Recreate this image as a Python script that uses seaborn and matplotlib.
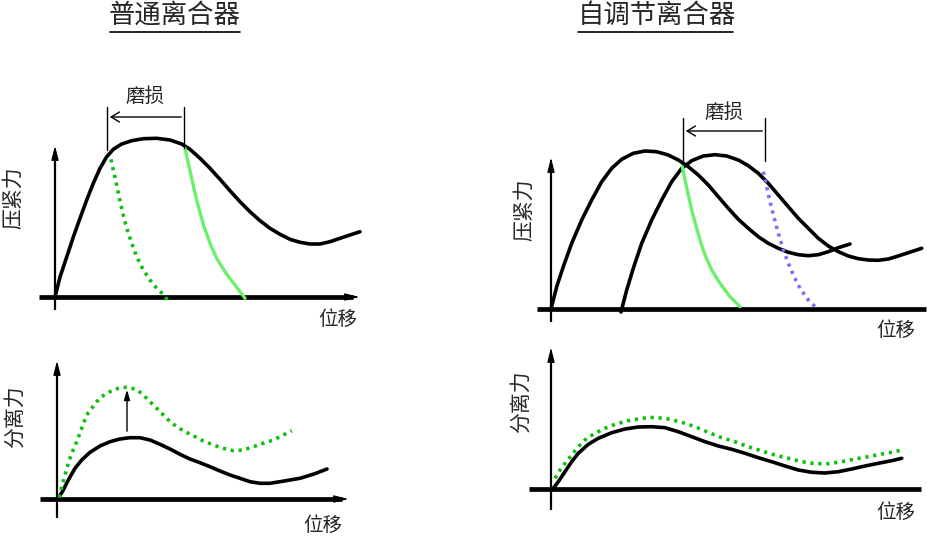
import numpy as np
import pandas as pd
import matplotlib
matplotlib.use('Agg')
import matplotlib.pyplot as plt
import seaborn as sns

# ---- data: (displacement, force), per panel ----
# top left: normal clutch, clamping force
normal_x = [0, 5, 11.7, 18.3, 25, 31.7, 38.3, 45, 51.7, 58.3, 66.7, 76.7, 88.3, 101.7, 115,
            126.7, 135, 145, 155, 165, 175, 185, 195, 205, 215, 225, 235, 245, 255, 265,
            275, 285, 295, 305]
normal_y = [0, 20, 40, 60, 78.7, 97, 113.7, 128.7, 140.3, 147.7, 153, 156.3, 158.3, 158.7, 157,
            153, 147.7, 138.7, 128.7, 117.7, 106.3, 95.3, 85.3, 76.3, 68.7, 62.7, 57.7, 54.7,
            53, 53, 55.3, 58.7, 62, 65.3]
worn_release_x = [56, 58.3, 61, 63.3, 65.7, 69, 72.3, 76.7, 81.7, 88.3, 95, 101.7, 108.3, 112.3]
worn_release_y = [137.7, 127, 115.3, 103.7, 93, 78.7, 67, 53.7, 40.3, 27, 17, 8.7, 2.7, -3]
new_release_x = [130, 133.3, 136.7, 140, 144.3, 149, 155, 161.7, 170, 180, 190]
new_release_y = [148.7, 133.7, 118.7, 103.7, 87, 70.3, 53.7, 38.7, 25.3, 12, -1.3]

# top right: self-adjusting clutch, clamping force
adj_a_x = [0, 5.7, 12.3, 20.7, 30.7, 40.7, 50.7, 60.7, 70.7, 82.3, 94, 105.7, 117.3, 127.3,
           137.3, 147.3, 157.3, 167.3, 177.3, 187.3, 197.3, 207.3, 217.3, 227.3, 237.3,
           247.3, 257.3, 267.3, 277.3, 287.3, 299]
adj_a_y = [0, 22.3, 42.3, 65.7, 89, 109, 127.3, 140.7, 149.7, 155.7, 158, 157.3, 154, 149,
           142.3, 134, 124, 112.3, 100.7, 89.7, 80.7, 72.3, 65.7, 60.7, 56.7, 54.3, 53.3,
           54.3, 57.3, 61.3, 65]
adj_b_x = [70, 75.7, 82.3, 90.7, 100.7, 110.7, 120.7, 130.7, 140.7, 152.3, 164, 175.7, 187.3,
           197.3, 207.3, 217.3, 227.3, 237.3, 247.3, 257.3, 267.3, 277.3, 287.3, 297.3,
           307.3, 317.3, 327.3, 337.3, 347.3, 357.3, 370.7]
adj_b_y = [-3, 19, 40.7, 65.7, 89, 109, 127.3, 140.7, 148.3, 153, 154.3, 153, 149, 143.3,
           135.7, 125.7, 114, 102.3, 90.7, 80.7, 70.7, 63, 57.3, 53, 50.3, 49, 48.7, 50, 53,
           56.3, 60.7]
adj_green_x = [131.3, 134, 137.3, 140.7, 144.7, 149, 154, 160.7, 169, 179, 189]
adj_green_y = [142.3, 129, 114, 99, 84, 69, 54, 39, 25.7, 12.3, 2.3]
adj_blue_x = [212.3, 215.7, 219, 223.3, 227.3, 232.3, 237.3, 242.3, 249, 257.3, 265.7]
adj_blue_y = [137.3, 122.3, 107.3, 90.7, 75.7, 59, 45.7, 34, 20.7, 9, 0.7]

# bottom left: normal clutch, release force
sep_new_x = [1.3, 6.3, 11.3, 18, 24.7, 33, 43, 53, 63, 73, 83, 93, 103, 113, 123, 133, 143,
             153, 163, 173, 183, 193, 203, 213, 223, 233, 243, 257, 270]
sep_new_y = [0.7, 9, 19, 30.7, 39, 46.7, 53, 57.3, 60, 61.3, 61.3, 59, 54.7, 50, 44.7, 40,
             36.3, 32.3, 28, 24, 20.7, 17.3, 15.7, 15.7, 17.3, 19, 20.7, 25, 30]
sep_worn_x = [2.3, 4.7, 8, 11.3, 14.7, 19.7, 24.7, 29.7, 34.7, 39.7, 44.7, 49.7, 56.3, 63,
              69.7, 78, 84.7, 91.3, 98, 104.7, 111.3, 119.7, 128, 136.3, 146.3, 156.3, 166.3,
              176.3, 186.3, 196.3, 206.3, 216.3, 226.3, 234.7]
sep_worn_y = [1.3, 12.3, 24, 35.7, 45.7, 57.3, 70.7, 84, 90.7, 97.3, 102.3, 105.7, 109,
              111.3, 111.7, 110, 105.7, 99, 92.3, 85.7, 79, 72.3, 67.3, 63.3, 58, 54, 50.7,
              48.3, 49, 52.3, 55.7, 59, 64, 68.3]

# bottom right: self-adjusting clutch, release force
asep_new_x = [2.3, 7.3, 14, 20.7, 27.3, 37.3, 47.3, 60.7, 74, 87.3, 100.7, 114, 127.3, 140.7,
              154, 167.3, 180.7, 194, 207.3, 220.7, 234, 247.3, 260.7, 274, 287.3, 300.7,
              314, 327.3, 340.7, 350.7]
asep_new_y = [0.7, 7.3, 17.3, 27.3, 35.7, 44.7, 50.7, 56.3, 60, 62, 62.3, 61.3, 57.3, 52.3,
              47.3, 43, 39.7, 35.7, 31.3, 27.3, 23, 19, 16.7, 16, 17.3, 20, 23, 25.7, 28.3,
              30.7]
asep_worn_x = [4, 9, 14, 20.7, 27.3, 35.7, 44, 54, 64, 77.3, 90.7, 104, 117.3, 130.7, 144,
               157.3, 170.7, 184, 197.3, 210.7, 224, 237.3, 250.7, 264, 277.3, 290.7, 304,
               317.3, 330.7, 344, 350.7]
asep_worn_y = [10.7, 19, 25.7, 34, 42.3, 50.7, 55.7, 60.7, 64.7, 68.3, 70.7, 71.7, 70, 66.7,
               62.3, 56.7, 51.3, 47.3, 42.3, 38, 34, 30.7, 27.3, 25.3, 25.3, 27.3, 30, 32.3,
               35, 37.3, 39]

titles = ['普通离合器', '自调节离合器']
ylabels = ['压紧力', '压紧力', '分离力', '分离力']
xlabel = '位移'
wear_label = '磨损'

BLACK = '#000000'
GREEN_DOT = '#10c010'
GREEN = '#6af06a'
BLUE_DOT = '#7474f0'

sns.set_theme(style='white')
plt.rcParams['font.family'] = ['Noto Sans CJK SC', 'DejaVu Sans']

W, H = 928, 538
fig = plt.figure(figsize=(W / 100, H / 100), dpi=100)
fig.patch.set_facecolor('white')


def make_ax(box, origin):
    # box in pixels (x0, y0, x1, y1), origin in pixels; 1 data unit = 1 pixel
    x0, y0, x1, y1 = box
    ax = fig.add_axes([x0 / W, 1 - y1 / H, (x1 - x0) / W, (y1 - y0) / H])
    ax.set_xlim(x0 - origin[0], x1 - origin[0])
    ax.set_ylim(origin[1] - y1, origin[1] - y0)
    ax.axis('off')
    return ax


def draw_axes(ax, xr, yr):
    ax.plot(xr, [0, 0], color=BLACK, lw=3.4, solid_capstyle='butt')
    ax.annotate('', xy=(xr[1] + 9, 0), xytext=(xr[1] - 1, 0),
                arrowprops=dict(arrowstyle='-|>,head_length=0.7,head_width=0.18',
                                color=BLACK, lw=1))
    ax.plot([0, 0], [yr[0], yr[1] - 8], color=BLACK, lw=1.6, solid_capstyle='butt')
    ax.annotate('', xy=(0, yr[1]), xytext=(0, yr[1] - 10),
                arrowprops=dict(arrowstyle='-|>,head_length=0.7,head_width=0.18',
                                color=BLACK, lw=1))


def curve(ax, x, y, color, lw=2.4, dotted=False):
    kw = dict(linestyle=(0, (0.9, 1.3)), dash_capstyle='butt') if dotted else {}
    sns.lineplot(x=x, y=y, sort=False, ax=ax, color=color, lw=lw,
                 solid_joinstyle='round', **kw)


def wear(ax, xl, xr, ybot, ytop, yarrow, ytext):
    ax.plot([xl, xl], [ybot, ytop], color=BLACK, lw=1)
    ax.plot([xr, xr], [ybot + 2, ytop], color=BLACK, lw=1)
    ax.annotate('', xy=(xl, yarrow), xytext=(xr, yarrow),
                arrowprops=dict(arrowstyle='->,head_length=0.5,head_width=0.3',
                                color=BLACK, lw=1))
    ax.text((xl + xr) / 2, ytext, wear_label, ha='center', va='center', fontsize=14)


def title(ax, txt, x, y, ul):
    ax.text(x, y, txt, ha='center', va='center', fontsize=19)
    ax.plot(ul, [y - 17, y - 17], color=BLACK, lw=1.2)


# ---- top left ----
ax1 = make_ax((0, 0, 464, 335), (55, 297))
draw_axes(ax1, (-16, 298), (-13, 154))
curve(ax1, normal_x, normal_y, BLACK, lw=2.6)
curve(ax1, worn_release_x, worn_release_y, GREEN_DOT, lw=2.6, dotted=True)
curve(ax1, new_release_x, new_release_y, GREEN, lw=2.4)
wear(ax1, 52, 129, 147, 190, 180, 201)
title(ax1, titles[0], 120, 282, [55, 185])
ax1.text(-42, 99, ylabels[0], rotation=90, ha='center', va='center', fontsize=15)
ax1.text(283, -22, xlabel, ha='center', va='center', fontsize=14)

# ---- top right ----
ax2 = make_ax((464, 0, 928, 335), (551, 309))
draw_axes(ax2, (-14, 375), (-13, 154))
curve(ax2, adj_a_x, adj_a_y, BLACK, lw=2.6)
curve(ax2, adj_b_x, adj_b_y, BLACK, lw=2.6)
curve(ax2, adj_green_x, adj_green_y, GREEN, lw=2.4)
curve(ax2, adj_blue_x, adj_blue_y, BLUE_DOT, lw=2.6, dotted=True)
wear(ax2, 132, 214, 146, 191, 178, 197)
title(ax2, titles[1], 106, 294, [27, 182])
ax2.text(-27, 99, ylabels[1], rotation=90, ha='center', va='center', fontsize=15)
ax2.text(345, -21, xlabel, ha='center', va='center', fontsize=14)

# ---- bottom left ----
ax3 = make_ax((0, 335, 464, 538), (57, 499))
draw_axes(ax3, (-17, 285), (-19, 141))
curve(ax3, sep_new_x, sep_new_y, BLACK, lw=2.6)
curve(ax3, sep_worn_x, sep_worn_y, GREEN_DOT, lw=2.6, dotted=True)
ax3.annotate('', xy=(70, 112), xytext=(70, 65),
             arrowprops=dict(arrowstyle='-|>,head_length=0.5,head_width=0.15',
                             color=BLACK, lw=1))
ax3.text(-42, 82, ylabels[2], rotation=90, ha='center', va='center', fontsize=15)
ax3.text(266, -26, xlabel, ha='center', va='center', fontsize=14)

# ---- bottom right ----
ax4 = make_ax((464, 335, 928, 538), (551, 489))
draw_axes(ax4, (-22, 370), (-21, 144))
curve(ax4, asep_new_x, asep_new_y, BLACK, lw=2.6)
curve(ax4, asep_worn_x, asep_worn_y, GREEN_DOT, lw=2.6, dotted=True)
ax4.text(-30, 87, ylabels[3], rotation=90, ha='center', va='center', fontsize=15)
ax4.text(345, -23, xlabel, ha='center', va='center', fontsize=14)

for a in (ax1, ax2, ax3, ax4):
    for ln in a.lines:
        ln.set_clip_on(False)

fig.savefig('out.png', dpi=100, facecolor='white')
